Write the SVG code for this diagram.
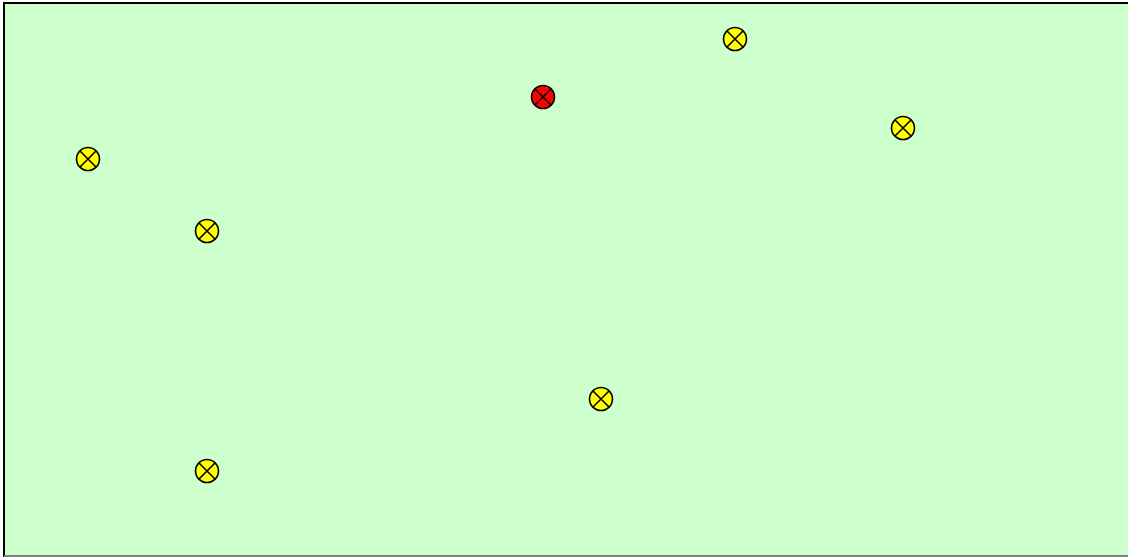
<svg xmlns="http://www.w3.org/2000/svg" width="1128" height="557" viewBox="0 0 1128 557">
<style>
.m circle{stroke:#000;stroke-width:1.6}
.m path{stroke:#000;stroke-width:1.6;fill:none}
.y circle{fill:#ffff00}
.r circle{fill:#ff0000}
</style>
<rect x="0" y="0" width="1128" height="557" fill="#ffffff"/>
<rect x="4" y="3" width="1130" height="553" fill="#ccffcc" stroke="#000" stroke-width="2"/>
<line x1="4" y1="556" x2="1128" y2="556" stroke="#808080" stroke-width="2"/>
<g id="connectors"></g>
<g id="n1" class="m r"><circle cx="543" cy="97" r="11.5"/><path d="M535 89L551 105M535 105L551 89"/></g>
<g id="n2" class="m y"><circle cx="735" cy="39" r="11.5"/><path d="M727 31L743 47M727 47L743 31"/></g>
<g id="n3" class="m y"><circle cx="903" cy="128" r="11.5"/><path d="M895 120L911 136M895 136L911 120"/></g>
<g id="n4" class="m y"><circle cx="88" cy="159" r="11.5"/><path d="M80 151L96 167M80 167L96 151"/></g>
<g id="n5" class="m y"><circle cx="207" cy="231" r="11.5"/><path d="M199 223L215 239M199 239L215 223"/></g>
<g id="n6" class="m y"><circle cx="601" cy="399" r="11.5"/><path d="M593 391L609 407M593 407L609 391"/></g>
<g id="n7" class="m y"><circle cx="207" cy="471" r="11.5"/><path d="M199 463L215 479M199 479L215 463"/></g>
</svg>
